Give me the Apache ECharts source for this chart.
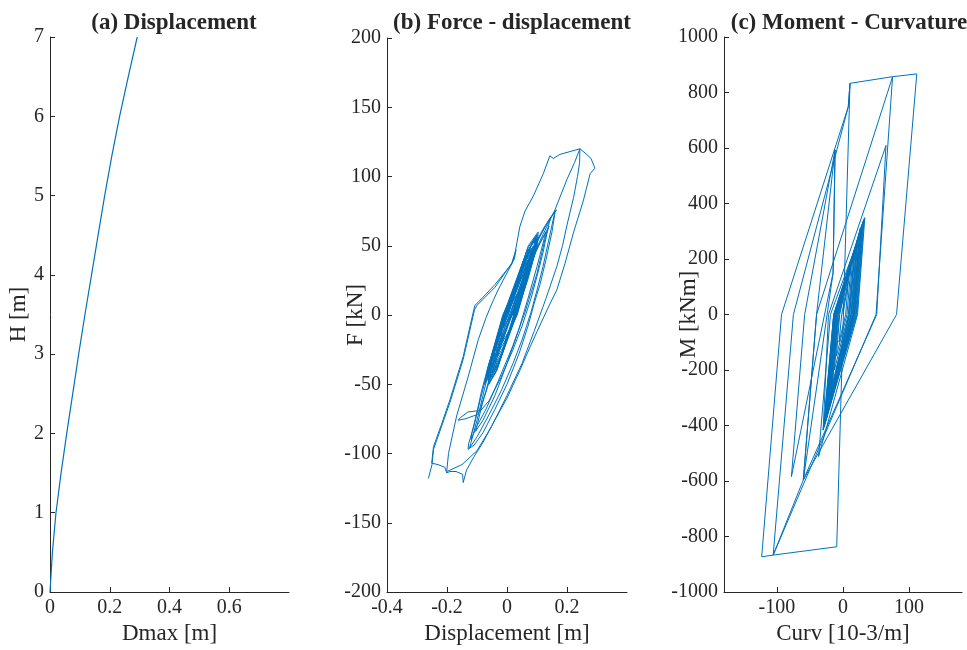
<!DOCTYPE html>
<html>
<head>
<meta charset="utf-8">
<script src="https://cdn.jsdelivr.net/npm/echarts@6/dist/echarts.min.js"></script>
<style>html,body{margin:0;padding:0;background:#fff}#c{width:967px;height:650px}</style>
</head>
<body>
<div id="c"></div>
<script>
// ---------- Panel (a): Displacement profile ----------
const heightH = [0, 0.5, 1, 1.5, 2, 2.5, 3, 3.5, 4, 4.5, 5, 5.5, 6, 6.5, 7];
const dmaxD   = [0, 0.008, 0.02, 0.037, 0.056, 0.076, 0.096, 0.117, 0.139, 0.161, 0.183, 0.207, 0.233, 0.262, 0.292];

// ---------- Panel (b): Force - displacement [m, kN] ----------
const fdSmall = [
[0,0],[0.012,6],[0.03,14],[0.056,20],[0.059,30],[0.026,20],[-0.006,0],[-0.021,-10],[-0.016,-20],[0.011,-10],[0.026,0],[0.05,14],[0.071,30],[0.074,40],[0.041,30],[0.018,14],[-0.01,0],[-0.036,-20],[-0.031,-30],[-0.004,-20],[0.03,0],[0.06,22],[0.086,40],[0.089,50],[0.056,40],[0.022,16],[-0.012,0],[-0.051,-30],[-0.046,-40],[-0.019,-30],[0.006,-14],[0.032,0],[0.094,45],[0.097,55],[0.064,45],[0.03,20],[-0.006,0],[-0.059,-35],[-0.054,-45],[-0.027,-35],[0.024,0],[0.079,35],[0.082,45],[0.049,35],[-0.01,0],[-0.044,-25],[-0.039,-35],[-0.012,-25],[0.028,0],[0.07,32],[0.101,50],[0.104,60],[0.071,50],[0.036,24],[-0.014,0],[-0.066,-40],[-0.061,-50],[-0.034,-40],[0.0,-14],[0.034,0],[0.086,40],[0.089,50],[0.056,40],[-0.004,0],[-0.059,-35],[-0.054,-45],[-0.027,-35],[0.022,0],[0.064,25],[0.067,35],[0.034,25],[-0.006,0],[-0.029,-15],[-0.024,-25],[0.004,-15],[0.03,0],[0.094,45],[0.097,55],[0.064,45],[-0.012,0],[-0.063,-38],[-0.058,-48],[-0.031,-38],[0.026,0],[0.098,48],[0.101,58],[0.068,48],[0.03,22],[-0.008,0],[-0.054,-32],[-0.049,-42],[-0.022,-32],[0.032,0],[0.083,38],[0.086,48],[0.053,38],[-0.01,0],[-0.066,-40],[-0.061,-50],[-0.034,-40],[0.024,0],[0.074,32],[0.077,42],[0.044,32],[-0.004,0],[-0.048,-28],[-0.043,-38],[-0.016,-28],[0.03,0],[0.07,26],[0.09,42],[0.1,54]
];
const fdSmall2 = [
[0.02,0],[0.06,25],[0.092,48],[0.095,56],[0.07,46],[0.045,30],[0.012,8],[-0.002,0],[-0.03,-18],[-0.056,-36],[-0.064,-46],[-0.048,-40],[-0.02,-22],[0.008,-4],[0.018,0],[0.05,20],[0.078,38],[0.08,46],[0.06,38],[0.03,18],[0.0,0],[-0.024,-14],[-0.05,-32],[-0.058,-40],[-0.042,-34],[-0.014,-16],[0.014,0],[0.045,18],[0.075,36],[0.095,50],[0.1,58],[0.084,52],[0.055,34],[0.025,14],[0.004,0],[-0.02,-12],[-0.045,-28],[-0.07,-44],[-0.075,-50],[-0.06,-44],[-0.03,-26],[0.0,-8],[0.012,0],[0.04,18],[0.068,34],[0.072,40],[0.05,30],[0.02,12],[-0.004,0],[-0.03,-18],[-0.05,-30],[-0.044,-32],[-0.02,-16],[0.008,0],[0.035,16],[0.062,32],[0.09,50],[0.094,56],[0.072,46],[0.04,26],[0.01,6],[-0.016,-8],[-0.042,-26],[-0.068,-42],[-0.072,-48],[-0.052,-38],[-0.025,-20],[0.005,-2],[0.03,12],[0.058,30],[0.084,46],[0.1,54]
];
const fdMedium = [
[0.118,60],[0.138,68],[0.155,73],[0.165,76],[0.16,74],[0.15,60],[0.13,40],[0.11,22],[0.09,8],[0.07,-8],[0.04,-28],[0.0,-50],[-0.04,-68],[-0.08,-85],[-0.11,-94],[-0.13,-97],[-0.128,-93],[-0.11,-80],[-0.09,-62],[-0.07,-45],[-0.04,-25],[0.0,0],[0.04,22],[0.08,45],[0.12,62],[0.15,72],[0.16,75],[0.155,70],[0.14,55],[0.12,35],[0.1,18],[0.08,2],[0.05,-18],[0.02,-35],[-0.02,-55],[-0.06,-72],[-0.1,-88],[-0.125,-96],[-0.12,-92],[-0.1,-76],[-0.08,-58],[-0.06,-40],[-0.03,-20],[0.01,5],[0.05,28],[0.09,48],[0.125,63],[0.145,70],[0.14,66],[0.12,45],[0.1,28],[0.08,12],[0.05,-8],[0.02,-25],[-0.02,-45],[-0.06,-62],[-0.1,-72],[-0.14,-75],[-0.163,-76],[-0.155,-74],[-0.13,-70],[-0.09,-69],[-0.07,-55],[-0.05,-38],[-0.02,-18],[0.02,2],
[0.06,30],[0.1,48],[0.13,60],[0.125,56],[0.1,35],[0.07,12],[0.04,-10],[0.0,-35],[-0.04,-58],[-0.08,-76],[-0.105,-84],[-0.1,-80],[-0.08,-62],[-0.05,-42],[-0.02,-22],[0.02,2],
[0.06,28],[0.11,52],[0.14,64],[0.13,58],[0.1,30],[0.06,2],[0.02,-22],[-0.03,-48],[-0.07,-68],[-0.1,-80],[-0.12,-90],[-0.118,-86],[-0.1,-70],[-0.085,-55],[-0.06,-35],[-0.03,-15],[0.02,2]
];
const fdLarge = [
[0.05,22],[0.08,40],[0.12,58],[0.16,76],[0.2,98],[0.225,110],[0.243,120],[0.242,110],[0.235,100],[0.222,85],[0.2,65],[0.185,50],[0.166,35],[0.13,12],[0.09,-12],[0.05,-35],[0.0,-58],[-0.05,-80],[-0.1,-98],[-0.15,-108],[-0.19,-112],[-0.201,-113],[-0.195,-100],[-0.168,-73],[-0.13,-45],[-0.096,-18],[-0.07,-2],[-0.051,8],[-0.03,18],[0.016,37],[0.027,45],[0.043,64],[0.06,75],[0.088,86],[0.121,102],[0.143,115],[0.154,113],[0.177,116],[0.21,118],[0.243,120],[0.26,117],[0.28,113],[0.293,106],[0.277,102],[0.255,83],[0.221,59],[0.193,37],[0.166,18],[0.143,8],[0.1,-12],[0.077,-23],[0.043,-40],[0.0,-60],[-0.046,-78],[-0.08,-92],[-0.112,-103],[-0.135,-112],[-0.146,-121],[-0.148,-115],[-0.17,-113],[-0.19,-113],[-0.201,-114],[-0.207,-110],[-0.23,-108],[-0.251,-107],[-0.245,-95],[-0.22,-80],[-0.19,-61],[-0.146,-30],[-0.12,-5],[-0.107,7],[-0.097,9],[-0.04,22],[0.016,37],[0.03,47],[0.024,40],[-0.04,20],[-0.1,7],[-0.108,4],[-0.146,-32],[-0.19,-63],[-0.245,-97],[-0.25,-108],[-0.262,-118]
];

// ---------- Panel (c): Moment - curvature [10-3/m, kNm] ----------
const mcSmall = [
[0,0],[8,120],[4,0],[-6,-100],[-2,0],[12,170],[6,0],[-10,-150],[-5,0],[15,210],[8,0],[-13,-200],[-6,0],[19,250],[10,0],[-16,-250],[-8,0],[22,270],[13,0],[-19,-290],[-9,0],[25,295],[15,0],[-22,-330],[-11,0],[27,300],[17,0],[-24,-360],[-12,0],[20,230],[12,0],[-20,-300],[-10,0],[28,320],[17,0],[-26,-380],[-13,0],[24,260],[15,0],[-23,-340],[-11,0],[30,330],[19,0],[-28,-400],[-14,0],[18,240],[10,0],[-18,-280],[-8,0],[26,310],[16,0],[-25,-370],[-12,0],[33,349],[22,0],[-37,-512],[-19,0],[26,290],[16,0],[-30,-416]
];
const mcSmall2 = [
[-14,0],[21,260],[12,0],[-21,-310],[-10,0],[29,325],[18,0],[-27,-390],[-13,0],[23,280],[14,0],[-24,-350],[-11,0],[31,340],[20,0],[-29,-405],[-14,0],[17,220],[9,0],[-17,-270],[-7,0],[26,300],[16,0],[-25,-375],[-12,0],[32,345],[21,0],[-30,-416]
];
const mcLarge = [
[-22,0],[65,609],[51,0],[-60,-596],[-40,0],[75,857],[50,0],[-105.6,-867],[-75,0],[8,749],[10.6,833],[75,857],[111.6,867],[81,0],[-60,-596],[-40,0],[-12,593],[-15,150],[-78,-584],[-58,0],[-12,593],[-15,150],[-60,-596],[-105.6,-867],[-123,-873],[-93,0],[8,749],[10.6,833],[-9.5,-837],[-105.6,-867]
];

// ---------- Axis tick labels ----------
const ticksAx = [0, 0.2, 0.4, 0.6];
const ticksBx = [-0.4, -0.2, 0, 0.2];
const ticksCx = [-100, 0, 100];

const lineColor = '#0072BD';
const txt = '#262626';
const serif = 'Liberation Serif';

function xAx(gi, min, max, ticks, name) {
  return {
    type: 'value', gridIndex: gi, min: min, max: max,
    name: name, nameLocation: 'middle', nameGap: 30, nameMoveOverlap: false,
    nameTextStyle: {color: txt, fontFamily: serif, fontSize: 23},
    axisLine: {show: true, onZero: false, lineStyle: {color: txt, width: 1}},
    axisTick: {show: true, inside: true, length: 5, customValues: ticks, lineStyle: {color: txt}},
    axisLabel: {color: txt, fontFamily: serif, fontSize: 20, margin: 6, customValues: ticks,
                formatter: v => String(v)},
    splitLine: {show: false}
  };
}
function yAx(gi, min, max, interval, name, gap) {
  return {
    type: 'value', gridIndex: gi, min: min, max: max, interval: interval,
    name: name, nameLocation: 'middle', nameGap: gap, nameRotate: 90, nameMoveOverlap: false,
    nameTextStyle: {color: txt, fontFamily: serif, fontSize: 23},
    axisLine: {show: true, onZero: false, lineStyle: {color: txt, width: 1}},
    axisTick: {show: true, inside: true, length: 5, lineStyle: {color: txt}},
    axisLabel: {color: txt, fontFamily: serif, fontSize: 20, margin: 6, formatter: v => String(v)},
    splitLine: {show: false}
  };
}
function ttl(text, cx) {
  return {text: text, left: cx, top: 7, textAlign: 'center',
    textStyle: {color: txt, fontFamily: serif, fontSize: 23, fontWeight: 'bold'}};
}

const chart = echarts.init(document.getElementById('c'), null, {renderer: 'canvas'});
chart.setOption({
  animation: false,
  backgroundColor: '#fff',
  title: [ttl('(a) Displacement', 169), ttl('(b) Force - displacement', 507), ttl('(c) Moment - Curvature', 844)],
  grid: [
    {left: 50, top: 37, width: 239, height: 555},
    {left: 387, top: 38, width: 240, height: 554},
    {left: 724, top: 37, width: 238, height: 555}
  ],
  xAxis: [
    xAx(0, 0, 0.8, ticksAx, 'Dmax [m]'),
    xAx(1, -0.4, 0.4, ticksBx, 'Displacement [m]'),
    xAx(2, -180, 180, ticksCx, 'Curv [10-3/m]')
  ],
  yAxis: [
    yAx(0, 0, 7, 1, 'H [m]', 20),
    yAx(1, -200, 200, 50, 'F [kN]', 20),
    yAx(2, -1000, 1000, 200, 'M [kNm]', 24)
  ],
  series: [
    {type: 'line', xAxisIndex: 0, yAxisIndex: 0, showSymbol: false, symbol: 'none',
     lineStyle: {color: lineColor, width: 1.2}, data: dmaxD.map((d, i) => [d, heightH[i]])},
    {type: 'line', xAxisIndex: 1, yAxisIndex: 1, showSymbol: false, symbol: 'none',
     lineStyle: {color: lineColor, width: 1}, data: fdSmall.concat(fdSmall2, fdMedium, fdLarge)},
    {type: 'line', xAxisIndex: 2, yAxisIndex: 2, showSymbol: false, symbol: 'none',
     lineStyle: {color: lineColor, width: 1}, data: mcSmall.concat(mcSmall2, mcLarge)}
  ]
});
</script>
</body>
</html>
